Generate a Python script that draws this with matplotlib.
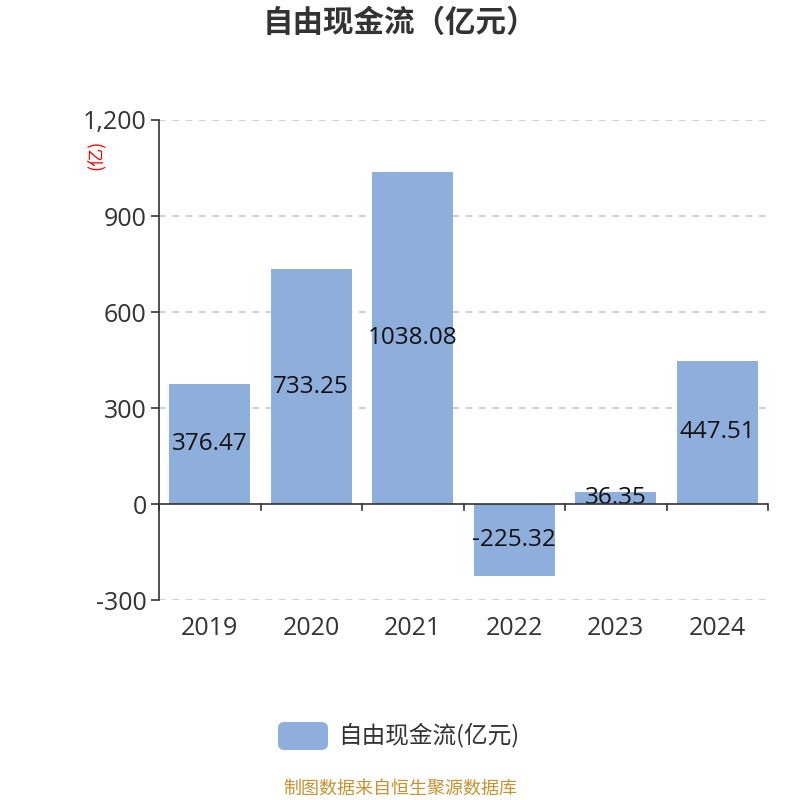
import matplotlib
matplotlib.use("Agg")
import matplotlib.pyplot as plt
from matplotlib.patches import FancyBboxPatch

plt.rcParams['font.family'] = ['Noto Sans CJK SC', 'DejaVu Sans']
NUM_FONT = ['Open Sans', 'Noto Sans CJK SC', 'DejaVu Sans']

years = ["2019", "2020", "2021", "2022", "2023", "2024"]
values = [376.47, 733.25, 1038.08, -225.32, 36.35, 447.51]
yticks = [-300, 0, 300, 600, 900, 1200]
ytick_labels = ["-300", "0", "300", "600", "900", "1,200"]

bar_color = "#8eaedb"
text_color = "#333333"

fig = plt.figure(figsize=(8, 8), dpi=100)
ax = fig.add_axes([159 / 800, 0.25, 609 / 800, 0.6])

x = list(range(len(years)))
ax.bar(x, values, width=0.8, color=bar_color, zorder=2)
for xi, v in zip(x, values):
    ax.text(xi, v / 2, f"{v:.2f}", ha="center", va="center", fontsize=17.5,
            color="#111111", zorder=3, family=NUM_FONT)

ax.set_xlim(-0.5, len(years) - 0.5)
ax.set_ylim(-300, 1200)
ax.set_yticks(yticks)
ax.set_yticklabels(ytick_labels, fontsize=18, color=text_color, family=NUM_FONT)
for y in yticks:
    if y != 0:
        ax.axhline(y, color="#c8c8c8", linestyle=(0, (4, 4)), linewidth=1.2, zorder=1)

for s in ["top", "right", "bottom"]:
    ax.spines[s].set_visible(False)
ax.spines["left"].set_color(text_color)
ax.spines["left"].set_linewidth(1.2)
ax.tick_params(axis="y", length=6, width=1.2, color=text_color, pad=3)

# zero axis line with boundary ticks
ax.axhline(0, color=text_color, linewidth=1.2, zorder=3)
ax.set_xticks([])
for b in [i - 0.5 for i in range(len(years) + 1)]:
    ax.plot([b, b], [0, -18], color=text_color, linewidth=1.2, clip_on=False, zorder=3)
for xi, yr in zip(x, years):
    ax.text(xi, -390, yr, ha="center", va="center", fontsize=18, color=text_color,
            family=NUM_FONT)

# unit label
fig.text(0.12, 0.806, "(亿)", rotation=90, ha="center", va="center", fontsize=13, color="red")

# title
fig.text(0.5, 1 - 23 / 800, "自由现金流（亿元）", ha="center", va="center", fontsize=22,
         fontweight="bold", color=text_color)

# legend
leg_rect = FancyBboxPatch((278 / 800, 1 - 750 / 800), 50 / 800, 28 / 800,
                          boxstyle="round,pad=0,rounding_size=0.008",
                          transform=fig.transFigure, facecolor=bar_color,
                          edgecolor="none")
fig.patches.append(leg_rect)
fig.text(338 / 800, 1 - 735 / 800, "自由现金流(亿元)", ha="left", va="center",
         fontsize=17, color=text_color)

# footer
fig.text(0.5, 1 - 789 / 800, "制图数据来自恒生聚源数据库", ha="center", va="center",
         fontsize=13, color="#c8922e")

fig.savefig("out.png", dpi=100)
